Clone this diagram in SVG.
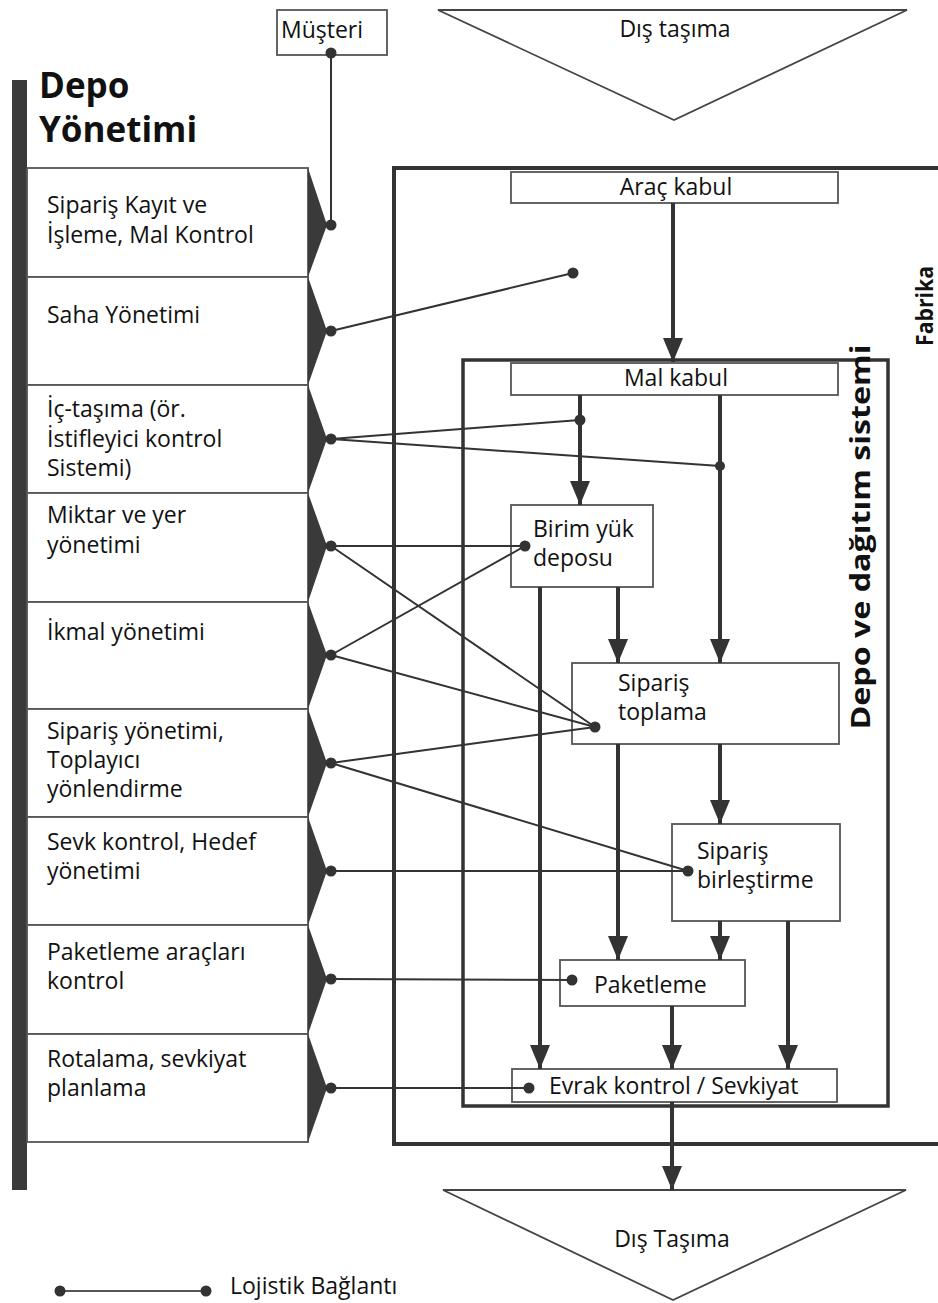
<svg xmlns="http://www.w3.org/2000/svg" width="938" height="1303" viewBox="0 0 938 1303">
<style>
text{font-family:"Open Sans","Liberation Sans",sans-serif;fill:#111;font-size:23px}
.b{font-weight:bold}
.t{font-size:35px}
.box{fill:#fff;stroke:#555;stroke-width:1.8}
.row{fill:#fff;stroke:#555;stroke-width:1.8}
.wedge{fill:#3a3a3a}
.flow{stroke:#333;stroke-width:4;fill:none;marker-end:url(#ah)}
.link{stroke:#333;stroke-width:2;fill:none}
.dot{fill:#333}
.frame{fill:none;stroke:#333}
</style>
<defs>
<marker id="ah" viewBox="0 0 24 20" refX="24" refY="10" markerWidth="24" markerHeight="20" markerUnits="userSpaceOnUse" orient="auto">
<path d="M0,0 L24,10 L0,20 z" fill="#333"/>
</marker>
</defs>
<rect width="938" height="1303" fill="#fff"/>

<!-- Frames -->
<g id="fabrika">
<path class="frame" stroke-width="4" d="M942,168 H394 V1144 H942"/>
<text class="b" transform="translate(933,306) rotate(-90)" text-anchor="middle" textLength="80" lengthAdjust="spacingAndGlyphs" style="font-size:23px">Fabrika</text>
</g>
<g id="depo-sistemi">
<rect class="frame" stroke-width="3.5" x="463" y="360" width="425" height="746"/>
<text class="b" transform="translate(870,537) rotate(-90)" text-anchor="middle" textLength="385" lengthAdjust="spacingAndGlyphs" style="font-size:26px">Depo ve dağıtım sistemi</text>
</g>

<!-- Left management column -->
<g id="depo-yonetimi">
<rect x="12" y="80" width="15" height="1110" fill="#3a3a3a"/>
<text class="b t" x="39" y="98">Depo</text>
<text class="b t" x="39" y="142">Yönetimi</text>
</g>
<g id="r1"><rect class="row" x="27" y="168" width="281" height="109"/><polygon class="wedge" points="308,168 327,225 308,277"/>
<text x="47" y="213">Sipariş Kayıt ve</text><text x="47" y="243">İşleme, Mal Kontrol</text></g>
<g id="r2"><rect class="row" x="27" y="277" width="281" height="108"/><polygon class="wedge" points="308,277 327,331 308,385"/>
<text x="47" y="323">Saha Yönetimi</text></g>
<g id="r3"><rect class="row" x="27" y="385" width="281" height="108"/><polygon class="wedge" points="308,385 327,439 308,493"/>
<text x="47" y="417">İç-taşıma (ör.</text><text x="47" y="447">İstifleyici kontrol</text><text x="47" y="476">Sistemi)</text></g>
<g id="r4"><rect class="row" x="27" y="493" width="281" height="109"/><polygon class="wedge" points="308,493 327,546 308,602"/>
<text x="47" y="523">Miktar ve yer</text><text x="47" y="553">yönetimi</text></g>
<g id="r5"><rect class="row" x="27" y="602" width="281" height="107"/><polygon class="wedge" points="308,602 327,655 308,709"/>
<text x="47" y="640">İkmal yönetimi</text></g>
<g id="r6"><rect class="row" x="27" y="709" width="281" height="108"/><polygon class="wedge" points="308,709 327,763 308,817"/>
<text x="47" y="739">Sipariş yönetimi,</text><text x="47" y="768">Toplayıcı</text><text x="47" y="797">yönlendirme</text></g>
<g id="r7"><rect class="row" x="27" y="817" width="281" height="108"/><polygon class="wedge" points="308,817 327,871 308,925"/>
<text x="47" y="850">Sevk kontrol, Hedef</text><text x="47" y="879">yönetimi</text></g>
<g id="r8"><rect class="row" x="27" y="925" width="281" height="109"/><polygon class="wedge" points="308,925 327,979 308,1034"/>
<text x="47" y="960">Paketleme araçları</text><text x="47" y="989">kontrol</text></g>
<g id="r9"><rect class="row" x="27" y="1034" width="281" height="108"/><polygon class="wedge" points="308,1034 327,1088 308,1142"/>
<text x="47" y="1067">Rotalama, sevkiyat</text><text x="47" y="1096">planlama</text></g>

<!-- Top / bottom nodes -->
<g id="musteri"><rect class="box" x="277" y="10" width="110" height="45"/><text x="281" y="38">Müşteri</text></g>
<g id="dis-tasima-giris"><polygon fill="#fff" stroke="#444" stroke-width="1.8" points="438,10 907,10 674,120"/><text x="675" y="37" text-anchor="middle">Dış taşıma</text></g>
<g id="dis-tasima-cikis"><polygon fill="#fff" stroke="#444" stroke-width="1.8" points="443,1190 906,1190 673,1300"/><text x="672" y="1247" text-anchor="middle">Dış Taşıma</text></g>

<!-- Flow nodes -->
<g id="arac-kabul"><rect class="box" x="511" y="172" width="327" height="31"/><text x="676" y="195" text-anchor="middle">Araç kabul</text></g>
<g id="mal-kabul"><rect class="box" x="511" y="363" width="327" height="32"/><text x="676" y="386" text-anchor="middle">Mal kabul</text></g>
<g id="birim-yuk"><rect class="box" x="511" y="505" width="142" height="82"/><text x="533" y="537">Birim yük</text><text x="533" y="566">deposu</text></g>
<g id="siparis-toplama"><rect class="box" x="572" y="663" width="267" height="81"/><text x="618" y="691">Sipariş</text><text x="618" y="720">toplama</text></g>
<g id="siparis-birlestirme"><rect class="box" x="672" y="824" width="168" height="97"/><text x="697" y="859">Sipariş</text><text x="697" y="888">birleştirme</text></g>
<g id="paketleme"><rect class="box" x="560" y="960" width="185" height="46"/><text x="594" y="993">Paketleme</text></g>
<g id="evrak"><rect class="box" x="512" y="1069" width="325" height="33"/><text x="549" y="1094">Evrak kontrol / Sevkiyat</text></g>

<!-- Connectors -->
<g id="connectors">
<path class="flow" d="M673,203 V362"/>
<path class="flow" d="M580,395 V505"/>
<path class="flow" d="M720,395 V663"/>
<path class="flow" d="M540,587 V1069"/>
<path class="flow" d="M618,587 V663"/>
<path class="flow" d="M618,744 V960"/>
<path class="flow" d="M720,744 V824"/>
<path class="flow" d="M720,921 V960"/>
<path class="flow" d="M788,921 V1069"/>
<path class="flow" d="M672,1006 V1069"/>
<path class="flow" d="M672,1102 V1190"/>

<path class="link" d="M331,53 V225"/>
<path class="link" d="M331,331 L573,273"/>
<path class="link" d="M331,439 L580,420 M331,439 L720,466"/>
<path class="link" d="M331,546 H525 M331,546 L595,727"/>
<path class="link" d="M331,655 L525,546 M331,655 L595,727"/>
<path class="link" d="M331,763 L595,727 M331,763 L688,871"/>
<path class="link" d="M331,871 H688"/>
<path class="link" d="M331,979 L572,980"/>
<path class="link" d="M331,1088 H529"/>
<g class="dot">
<circle cx="331" cy="53" r="5.5"/><circle cx="331" cy="225" r="5.5"/>
<circle cx="331" cy="331" r="5.5"/><circle cx="573" cy="273" r="5.5"/>
<circle cx="331" cy="439" r="5.5"/><circle cx="580" cy="420" r="5.5"/><circle cx="720" cy="466" r="5"/>
<circle cx="331" cy="546" r="5.5"/><circle cx="525" cy="546" r="5.5"/>
<circle cx="331" cy="655" r="5.5"/><circle cx="595" cy="727" r="5.5"/>
<circle cx="331" cy="763" r="5.5"/><circle cx="688" cy="871" r="5.5"/>
<circle cx="331" cy="871" r="5.5"/>
<circle cx="331" cy="979" r="5.5"/><circle cx="572" cy="980" r="5.5"/>
<circle cx="331" cy="1088" r="5.5"/><circle cx="529" cy="1088" r="5.5"/>
</g>
</g>

<!-- Legend -->
<g id="legend">
<line x1="60" y1="1291" x2="206" y2="1291" stroke="#555" stroke-width="2"/>
<circle class="dot" cx="60" cy="1291" r="5.5"/><circle class="dot" cx="206" cy="1291" r="5.5"/>
<text x="230" y="1294">Lojistik Bağlantı</text>
</g>
</svg>
